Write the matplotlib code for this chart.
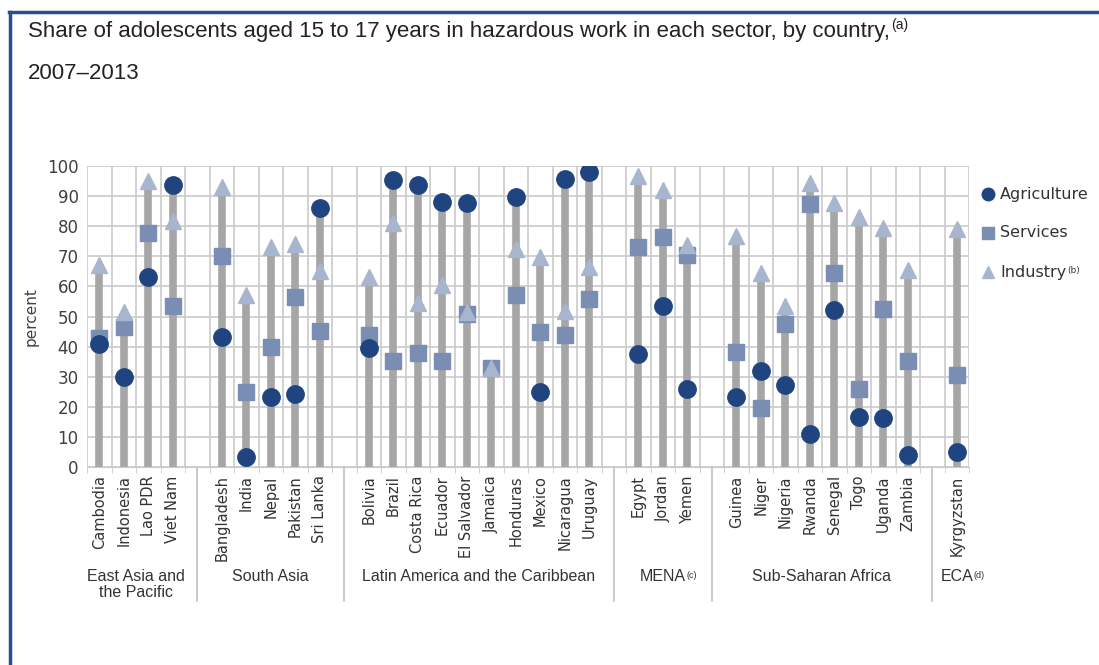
import matplotlib
matplotlib.use("Agg")
import matplotlib.pyplot as plt
from matplotlib.lines import Line2D
from matplotlib.transforms import blended_transform_factory
import numpy as np

# Share of adolescents (15-17) in hazardous work by sector, 2007-2013
regions = ["East Asia and\nthe Pacific", "South Asia", "Latin America and the Caribbean",
           "MENA", "Sub-Saharan Africa", "ECA"]
region_notes = ["", "", "", "(c)", "", "(d)"]
region_sizes = [4, 5, 10, 3, 8, 1]

countries = ["Cambodia", "Indonesia", "Lao PDR", "Viet Nam",
             "Bangladesh", "India", "Nepal", "Pakistan", "Sri Lanka",
             "Bolivia", "Brazil", "Costa Rica", "Ecuador", "El Salvador", "Jamaica",
             "Honduras", "Mexico", "Nicaragua", "Uruguay",
             "Egypt", "Jordan", "Yemen",
             "Guinea", "Niger", "Nigeria", "Rwanda", "Senegal", "Togo", "Uganda", "Zambia",
             "Kyrgyzstan"]
agriculture = [40.8, 30.0, 63.1, 93.7,
               43.3, 3.4, 23.4, 24.3, 86.0,
               39.6, 95.3, 93.7, 88.2, 87.6, np.nan, 89.8, 24.8, 95.6, 98.1,
               37.4, 53.5, 25.8,
               23.4, 31.8, 27.1, 11.0, 52.2, 16.5, 16.4, 4.0,
               4.9]
services = [43.0, 46.6, 77.8, 53.6,
            70.1, 24.8, 40.0, 56.6, 45.2,
            43.9, 35.3, 38.0, 35.3, 50.8, 33.0, 57.1, 44.9, 43.9, 55.9,
            73.1, 76.4, 70.4,
            38.3, 19.7, 47.6, 87.4, 64.6, 25.8, 52.4, 35.3,
            30.7]
industry = [67.0, 51.4, 95.1, 81.8,
            92.9, 57.1, 73.2, 74.0, 65.2,
            63.0, 81.2, 54.4, 60.5, 51.6, 32.8, 72.3, 69.7, 51.8, 66.5,
            96.7, 92.0, 73.6,
            76.7, 64.3, 53.6, 94.5, 87.6, 82.9, 79.3, 65.4,
            79.0]
legend_labels = ["Agriculture", "Services", "Industry"]

SANS = ["Liberation Sans", "DejaVu Sans"]
C_AGR = "#1f4480"
C_SER = "#7a8eb4"
C_IND = "#a8b5cf"
C_STEM = "#a6a6a6"
C_GRID = "#cbcbcb"
C_FRAME = "#2b4f8c"
C_TEXT = "#333333"

# slot positions: one empty slot between regions
xpos = []
gaps = []
slot = 0
for n in region_sizes:
    xpos.extend(range(slot, slot + n))
    slot += n
    gaps.append(slot)
    slot += 1
n_slots = slot - 1
gaps = gaps[:-1]
xpos = np.array(xpos)

fig = plt.figure(figsize=(10.99, 6.65), dpi=100)
ax = fig.add_axes([87 / 1099, 198 / 665, 882 / 1099, 301 / 665])

# stems up to highest value
tops = np.nanmax(np.vstack([agriculture, services, industry]), axis=0)
ax.vlines(xpos, 0, tops, color=C_STEM, lw=5.5, zorder=2)
ax.plot(xpos, services, "s", color=C_SER, ms=11, zorder=3, ls="none")
ax.plot(xpos, industry, "^", color=C_IND, ms=11, zorder=4, ls="none")
ax.plot(xpos, agriculture, "o", color=C_AGR, ms=12.5, zorder=5, ls="none")

ax.set_xlim(-0.5, n_slots - 0.5)
ax.set_ylim(0, 100)
ax.set_yticks(range(0, 101, 10))
ax.set_xticks(np.arange(-0.5, n_slots, 1), minor=True)
ax.set_xticks(xpos)
ax.set_xticklabels(countries, rotation=90, fontsize=10.5, color=C_TEXT)
ax.tick_params(axis="x", which="major", length=0, pad=6)
ax.tick_params(axis="x", which="minor", length=4, color=C_GRID)
ax.tick_params(axis="y", length=0, labelsize=12, labelcolor="#404040", pad=6)
ax.grid(True, which="minor", axis="x", color=C_GRID, lw=1.2, zorder=0)
ax.grid(True, which="major", axis="y", color=C_GRID, lw=1.2, zorder=0)
ax.set_axisbelow(True)
for side in ["top", "right", "left"]:
    ax.spines[side].set_visible(False)
ax.spines["bottom"].set_color(C_GRID)
ax.set_ylabel("percent", fontsize=11, color="#404040", labelpad=6)

# region labels and separators
trans = blended_transform_factory(ax.transData, ax.transAxes)
start = 0
for name, note, n in zip(regions, region_notes, region_sizes):
    centre = (xpos[start] + xpos[start + n - 1]) / 2
    t = ax.text(centre, -0.34, name, transform=trans, ha="center", va="top",
                fontsize=11.5, family=SANS, color=C_TEXT, linespacing=1.05)
    if note:
        ax.annotate(note, xy=(1, 1), xycoords=t, xytext=(0.5, -1), textcoords="offset points",
                    va="top", ha="left", fontsize=6.5, family=SANS, color=C_TEXT,
                    annotation_clip=False)
    start += n
for g in gaps:
    ax.plot([g, g], [0, -0.445], transform=trans, color="#c0c0c0", lw=1.2, clip_on=False)

# legend, drawn by hand
markers = [("o", C_AGR, 9), ("s", C_SER, 8), ("^", C_IND, 8)]
for i, (label, (m, c, ms)) in enumerate(zip(legend_labels, markers)):
    y = 1 - (194 + 39 * i) / 665
    fig.add_artist(Line2D([988 / 1099], [y], transform=fig.transFigure, marker=m,
                          color=c, ms=ms, ls="none"))
    lt = fig.text(1000 / 1099, y, label, fontsize=11.5, va="center", ha="left", color=C_TEXT)
    if i == 2:
        ax.annotate("(b)", xy=(1, 1), xycoords=lt, xytext=(0.5, -1), textcoords="offset points",
                    va="top", ha="left", fontsize=6.5, color=C_TEXT, annotation_clip=False)

# title
t1 = fig.text(28 / 1099, 1 - 21 / 665,
              "Share of adolescents aged 15 to 17 years in hazardous work in each sector, by country,",
              fontsize=16, family=SANS, color="#222222", va="top")
ax.annotate("(a)", xy=(1, 1), xycoords=t1, xytext=(1, 2), textcoords="offset points",
            va="top", ha="left", fontsize=10, family=SANS, color="#222222", annotation_clip=False)
fig.text(28 / 1099, 1 - 63 / 665, "2007\u20132013", fontsize=16, family=SANS,
         color="#222222", va="top")

# frame around the figure
fig.add_artist(Line2D([9 / 1099, 1], [1 - 12 / 665, 1 - 12 / 665], transform=fig.transFigure,
                      color=C_FRAME, lw=2.5))
fig.add_artist(Line2D([10 / 1099, 10 / 1099], [0, 1 - 12 / 665], transform=fig.transFigure,
                      color=C_FRAME, lw=2.5))

fig.savefig("out.png", dpi=100)
